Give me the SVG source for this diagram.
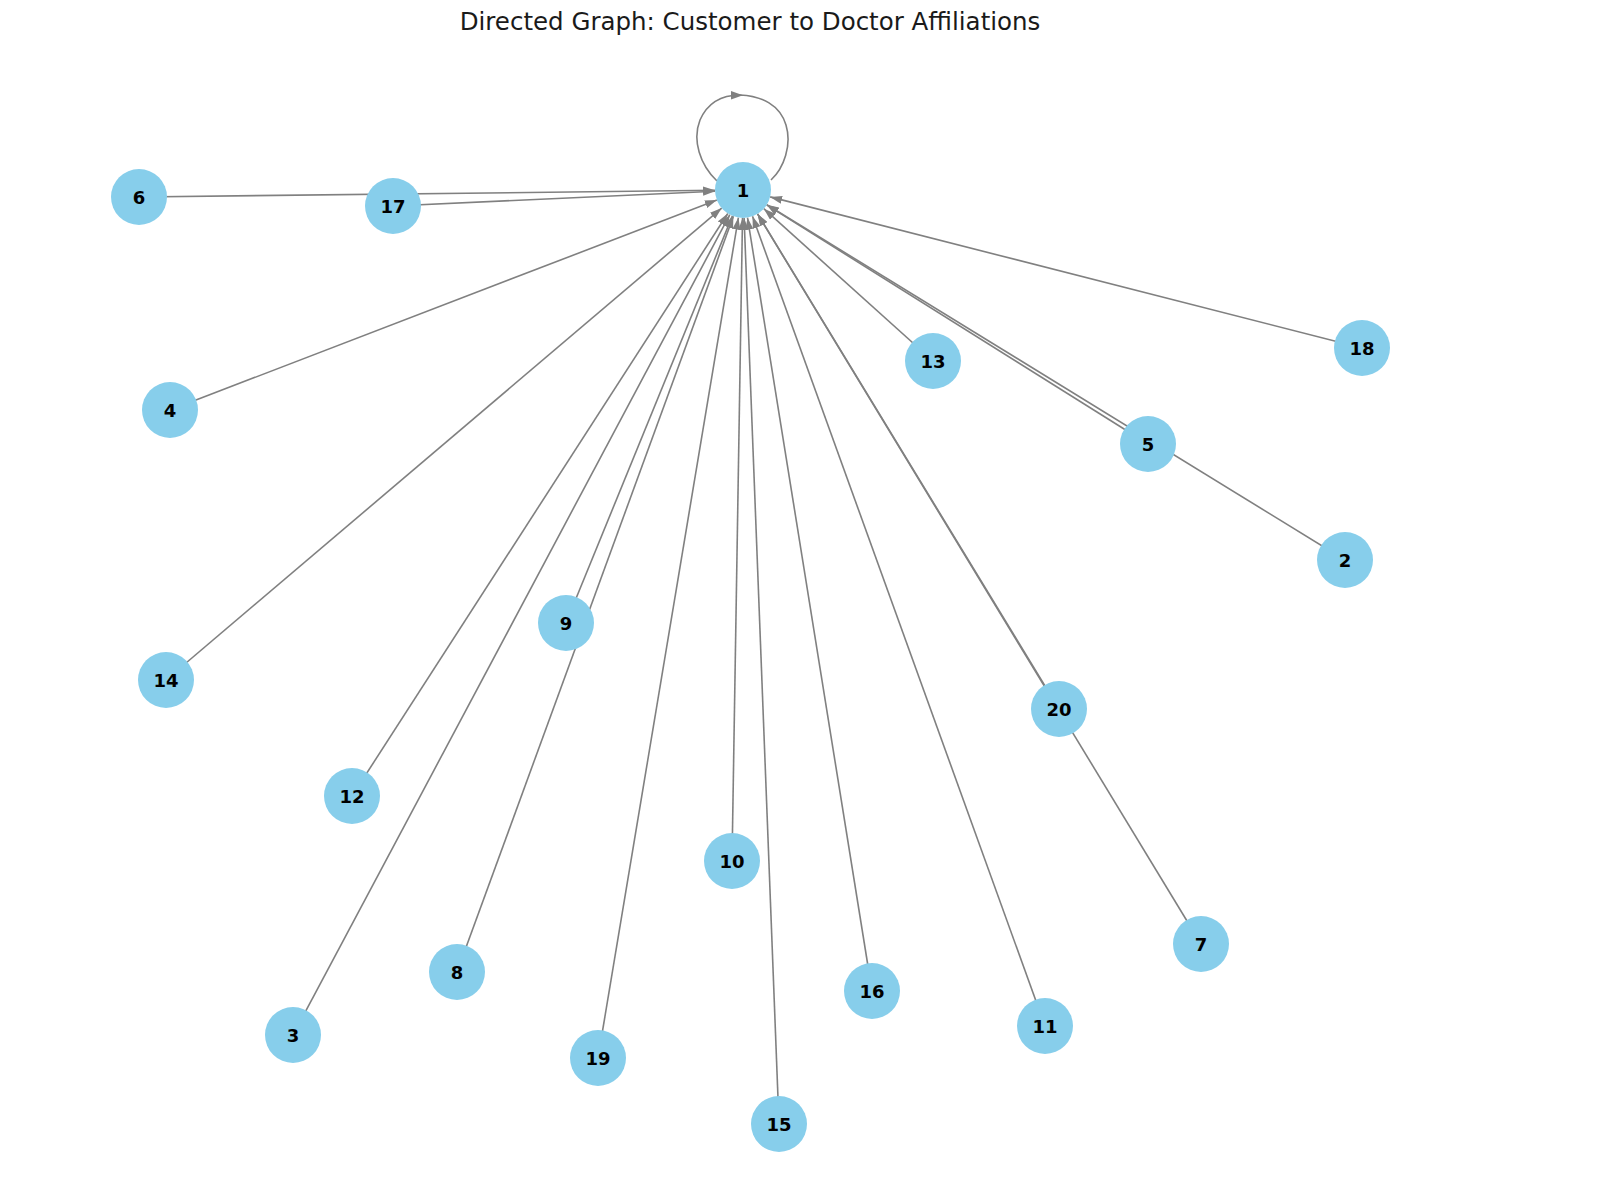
<svg xmlns="http://www.w3.org/2000/svg" width="1600" height="1193" viewBox="0 0 1600 1193">
<style>
.e{stroke:#808080;stroke-width:1.6;fill:none;marker-end:url(#ah)}
.n circle{fill:#87CEEB}
.n text{font-family:"DejaVu Sans",sans-serif;font-weight:bold;font-size:18px;fill:#000;text-anchor:middle;dominant-baseline:central}
.title{font-family:"DejaVu Sans",sans-serif;font-size:24.5px;fill:#1a1a1a;text-anchor:middle}
</style>
<defs>
<marker id="ah" markerUnits="userSpaceOnUse" markerWidth="12" markerHeight="8" refX="12" refY="4" orient="auto">
<path d="M0,0 L12,4 L0,8 z" fill="#808080"/>
</marker>
</defs>
<rect width="1600" height="1193" fill="#fff"/>
<text class="title" x="750" y="30">Directed Graph: Customer to Doctor Affiliations</text>
<g id="edges">
<line class="e" x1="139" y1="197" x2="715.0" y2="190.3"/>
<line class="e" x1="393" y1="206" x2="715.0" y2="191.3"/>
<line class="e" x1="170" y1="410" x2="716.9" y2="200.0"/>
<line class="e" x1="166" y1="680" x2="721.7" y2="208.1"/>
<line class="e" x1="352" y1="796" x2="727.8" y2="213.5"/>
<line class="e" x1="293" y1="1035" x2="729.8" y2="214.7"/>
<line class="e" x1="566" y1="623" x2="732.4" y2="215.9"/>
<line class="e" x1="457" y1="972" x2="733.4" y2="216.3"/>
<line class="e" x1="598" y1="1058" x2="738.4" y2="217.6"/>
<line class="e" x1="732" y1="861" x2="742.5" y2="218.0"/>
<line class="e" x1="779" y1="1124" x2="744.1" y2="218.0"/>
<line class="e" x1="872" y1="991" x2="747.5" y2="217.6"/>
<line class="e" x1="1045" y1="1026" x2="752.5" y2="216.3"/>
<line class="e" x1="1059" y1="709" x2="757.6" y2="213.9"/>
<line class="e" x1="1201" y1="944" x2="757.5" y2="213.9"/>
<line class="e" x1="933" y1="361" x2="763.8" y2="208.7"/>
<line class="e" x1="1148" y1="444" x2="766.7" y2="204.9"/>
<line class="e" x1="1345" y1="560" x2="766.9" y2="204.7"/>
<line class="e" x1="1362" y1="348" x2="770.1" y2="196.9"/>
<path d="M717,181 C700,165 692,140 700,120 C708,102 722,95 740,95 C762,96 780,105 786,125 C792,145 784,168 771,180" stroke="#808080" stroke-width="1.6" fill="none"/>
<path d="M731,91 L743,95.3 L731,99.5 z" fill="#808080"/>
</g>
<g id="node1" class="n"><circle cx="743" cy="190" r="28"/><text x="743" y="190">1</text></g>
<g id="node6" class="n"><circle cx="139" cy="197" r="28"/><text x="139" y="197">6</text></g>
<g id="node17" class="n"><circle cx="393" cy="206" r="28"/><text x="393" y="206">17</text></g>
<g id="node4" class="n"><circle cx="170" cy="410" r="28"/><text x="170" y="410">4</text></g>
<g id="node14" class="n"><circle cx="166" cy="680" r="28"/><text x="166" y="680">14</text></g>
<g id="node12" class="n"><circle cx="352" cy="796" r="28"/><text x="352" y="796">12</text></g>
<g id="node3" class="n"><circle cx="293" cy="1035" r="28"/><text x="293" y="1035">3</text></g>
<g id="node8" class="n"><circle cx="457" cy="972" r="28"/><text x="457" y="972">8</text></g>
<g id="node19" class="n"><circle cx="598" cy="1058" r="28"/><text x="598" y="1058">19</text></g>
<g id="node15" class="n"><circle cx="779" cy="1124" r="28"/><text x="779" y="1124">15</text></g>
<g id="node10" class="n"><circle cx="732" cy="861" r="28"/><text x="732" y="861">10</text></g>
<g id="node16" class="n"><circle cx="872" cy="991" r="28"/><text x="872" y="991">16</text></g>
<g id="node11" class="n"><circle cx="1045" cy="1026" r="28"/><text x="1045" y="1026">11</text></g>
<g id="node7" class="n"><circle cx="1201" cy="944" r="28"/><text x="1201" y="944">7</text></g>
<g id="node20" class="n"><circle cx="1059" cy="709" r="28"/><text x="1059" y="709">20</text></g>
<g id="node9" class="n"><circle cx="566" cy="623" r="28"/><text x="566" y="623">9</text></g>
<g id="node13" class="n"><circle cx="933" cy="361" r="28"/><text x="933" y="361">13</text></g>
<g id="node5" class="n"><circle cx="1148" cy="444" r="28"/><text x="1148" y="444">5</text></g>
<g id="node2" class="n"><circle cx="1345" cy="560" r="28"/><text x="1345" y="560">2</text></g>
<g id="node18" class="n"><circle cx="1362" cy="348" r="28"/><text x="1362" y="348">18</text></g>
</svg>
